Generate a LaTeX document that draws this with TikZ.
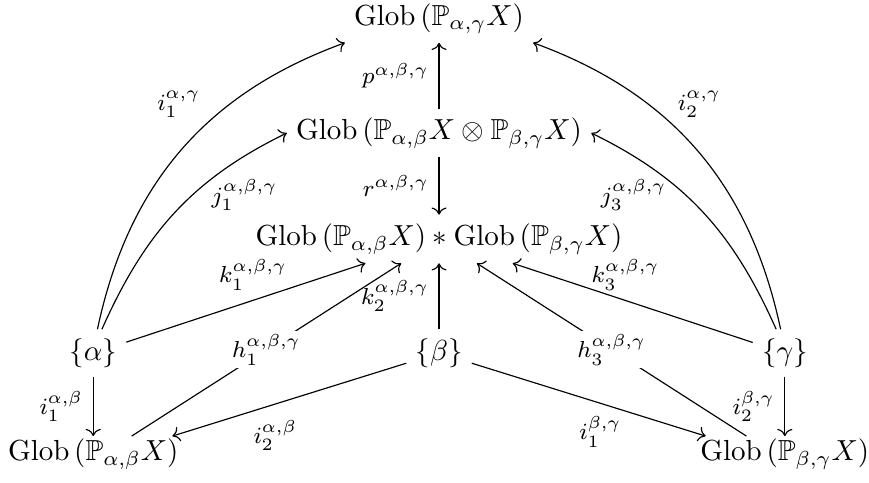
\documentclass[tikz,border=0pt]{standalone}
\usepackage{amsmath,amssymb}
\usetikzlibrary{arrows.meta}

\begin{document}
\begin{tikzpicture}[
    obj/.style={inner sep=3pt},
    low/.style={inner xsep=3pt, inner ysep=0.8pt, text height=7.5pt, text depth=7.5pt},
    arr/.style={-{To}},
    lbl/.style={font=\footnotesize},
    desc/.style={font=\footnotesize, fill=white, inner sep=1pt}
  ]
  \useasboundingbox (-5.32,-1.563) rectangle (5.21,4.278);
  % --- objects ---
  \node[obj] (top) at (0,4.054) {$\mathrm{Glob}\left(\mathbb{P}_{\alpha,\gamma}X\right)$};
  \node[obj] (mid) at (0,2.666) {$\mathrm{Glob}\left(\mathbb{P}_{\alpha,\beta}X\otimes\mathbb{P}_{\beta,\gamma}X\right)$};
  \node[obj] (star) at (0,1.382) {$\mathrm{Glob}\left(\mathbb{P}_{\alpha,\beta}X\right)*\mathrm{Glob}\left(\mathbb{P}_{\beta,\gamma}X\right)$};
  \node[obj] (alpha) at (-4.19,0) {$\{\alpha\}$};
  \node[obj] (beta) at (0,0) {$\{\beta\}$};
  \node[obj] (gamma) at (4.19,0) {$\{\gamma\}$};
  \node[low] (bl) at (-4.19,-1.305) {$\mathrm{Glob}\left(\mathbb{P}_{\alpha,\beta}X\right)$};
  \node[low] (br) at (4.19,-1.305) {$\mathrm{Glob}\left(\mathbb{P}_{\beta,\gamma}X\right)$};

  % --- curved maps ---
  \draw[arr] (alpha.80) to[out=78,in=200] node[lbl, above left, inner sep=2pt, pos=0.6] {$i_1^{\alpha,\gamma}$} (top.south west);
  \draw[arr] (alpha.70) to[out=66,in=206] node[lbl, below right, inner sep=0pt, pos=0.69] {$j_1^{\alpha,\beta,\gamma}$} (mid.west);
  \draw[arr] (gamma.100) to[out=102,in=-20] node[lbl, above right, inner sep=2pt, pos=0.6] {$i_2^{\alpha,\gamma}$} (top.south east);
  \draw[arr] (gamma.110) to[out=114,in=-26] node[lbl, below left, inner sep=0pt, pos=0.69] {$j_3^{\alpha,\beta,\gamma}$} (mid.east);

  % --- middle column ---
  \draw[arr] (mid) -- node[lbl, left] {$p^{\alpha,\beta,\gamma}$} (top);
  \draw[arr] (mid) -- node[lbl, left] {$r^{\alpha,\beta,\gamma}$} (star);
  \draw[arr] (beta) -- node[lbl, left] {$k_2^{\alpha,\beta,\gamma}$} (star);

  % --- into the join ---
  \draw[arr] (alpha) -- node[lbl, above, pos=0.53] {$k_1^{\alpha,\beta,\gamma}$} (star);
  \draw[arr] (gamma) -- node[lbl, above, pos=0.53] {$k_3^{\alpha,\beta,\gamma}$} (star);
  \draw[arr] (bl) -- node[desc] {$h_1^{\alpha,\beta,\gamma}$} (star);
  \draw[arr] (br) -- node[desc] {$h_3^{\alpha,\beta,\gamma}$} (star);

  % --- bottom row ---
  \draw[arr] (alpha) -- node[lbl, left] {$i_1^{\alpha,\beta}$} (bl);
  \draw[arr] (beta) -- node[lbl, below=2pt, pos=0.56] {$i_2^{\alpha,\beta}$} (bl);
  \draw[arr] (beta) -- node[lbl, below=1pt, pos=0.55] {$i_1^{\beta,\gamma}$} (br);
  \draw[arr] (gamma) -- node[lbl, left] {$i_2^{\beta,\gamma}$} (br);
\end{tikzpicture}
\end{document}
